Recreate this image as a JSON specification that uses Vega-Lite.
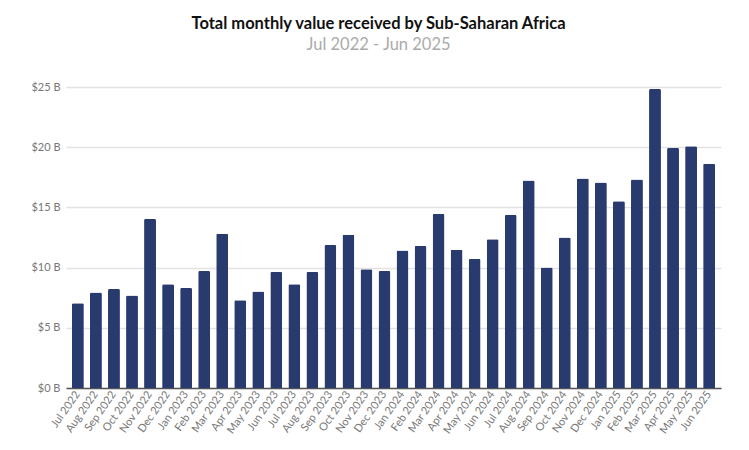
{
  "$schema": "https://vega.github.io/schema/vega-lite/v6.json",
  "width": 655,
  "height": 301,
  "autosize": {"type": "none"},
  "padding": {"left": 66, "top": 87, "right": 28, "bottom": 62},
  "background": "white",
  "title": {
    "text": "Total monthly value received by Sub-Saharan Africa",
    "subtitle": "Jul 2022 - Jun 2025",
    "anchor": "middle",
    "dx": -15,
    "font": "Lato",
    "fontSize": 16.5,
    "fontWeight": "bold",
    "color": "#111111",
    "subtitleFont": "Lato",
    "subtitleFontSize": 16.5,
    "subtitleColor": "#aaaaaa",
    "subtitlePadding": 4,
    "offset": 28
  },
  "data": {
    "values": [
      {"month": "Jul 2022", "value": 7.04},
      {"month": "Aug 2022", "value": 7.93},
      {"month": "Sep 2022", "value": 8.23},
      {"month": "Oct 2022", "value": 7.68},
      {"month": "Nov 2022", "value": 14.03},
      {"month": "Dec 2022", "value": 8.62},
      {"month": "Jan 2023", "value": 8.31},
      {"month": "Feb 2023", "value": 9.72},
      {"month": "Mar 2023", "value": 12.82},
      {"month": "Apr 2023", "value": 7.29},
      {"month": "May 2023", "value": 8.01},
      {"month": "Jun 2023", "value": 9.64},
      {"month": "Jul 2023", "value": 8.62},
      {"month": "Aug 2023", "value": 9.64},
      {"month": "Sep 2023", "value": 11.88},
      {"month": "Oct 2023", "value": 12.73},
      {"month": "Nov 2023", "value": 9.86},
      {"month": "Dec 2023", "value": 9.72},
      {"month": "Jan 2024", "value": 11.41},
      {"month": "Feb 2024", "value": 11.80},
      {"month": "Mar 2024", "value": 14.45},
      {"month": "Apr 2024", "value": 11.49},
      {"month": "May 2024", "value": 10.72},
      {"month": "Jun 2024", "value": 12.35},
      {"month": "Jul 2024", "value": 14.36},
      {"month": "Aug 2024", "value": 17.24},
      {"month": "Sep 2024", "value": 10.0},
      {"month": "Oct 2024", "value": 12.51},
      {"month": "Nov 2024", "value": 17.40},
      {"month": "Dec 2024", "value": 17.07},
      {"month": "Jan 2025", "value": 15.52},
      {"month": "Feb 2025", "value": 17.32},
      {"month": "Mar 2025", "value": 24.83},
      {"month": "Apr 2025", "value": 19.94},
      {"month": "May 2025", "value": 20.08},
      {"month": "Jun 2025", "value": 18.62}
    ]
  },
  "mark": {"type": "bar", "color": "#293a6f", "cornerRadiusTopLeft": 1.5, "cornerRadiusTopRight": 1.5},
  "encoding": {
    "x": {
      "field": "month",
      "type": "ordinal",
      "sort": null,
      "scale": {"paddingInner": 0.34, "paddingOuter": 0.33},
      "axis": {
        "title": null,
        "labelAngle": -55,
        "labelFont": "Lato",
        "labelFontSize": 11,
        "labelColor": "#777777",
        "ticks": false,
        "labelPadding": 4,
        "domainColor": "#555555",
        "domainWidth": 1.5
      }
    },
    "y": {
      "field": "value",
      "type": "quantitative",
      "scale": {"domain": [0, 25]},
      "axis": {
        "title": null,
        "values": [0, 5, 10, 15, 20, 25],
        "labelExpr": "'$' + datum.value + ' B'",
        "labelFont": "Lato",
        "labelFontSize": 11,
        "labelColor": "#777777",
        "ticks": false,
        "labelPadding": 6,
        "domain": false,
        "grid": true,
        "gridColor": "#e3e3e3",
        "gridWidth": 1.5
      }
    }
  },
  "config": {"view": {"stroke": null}}
}
